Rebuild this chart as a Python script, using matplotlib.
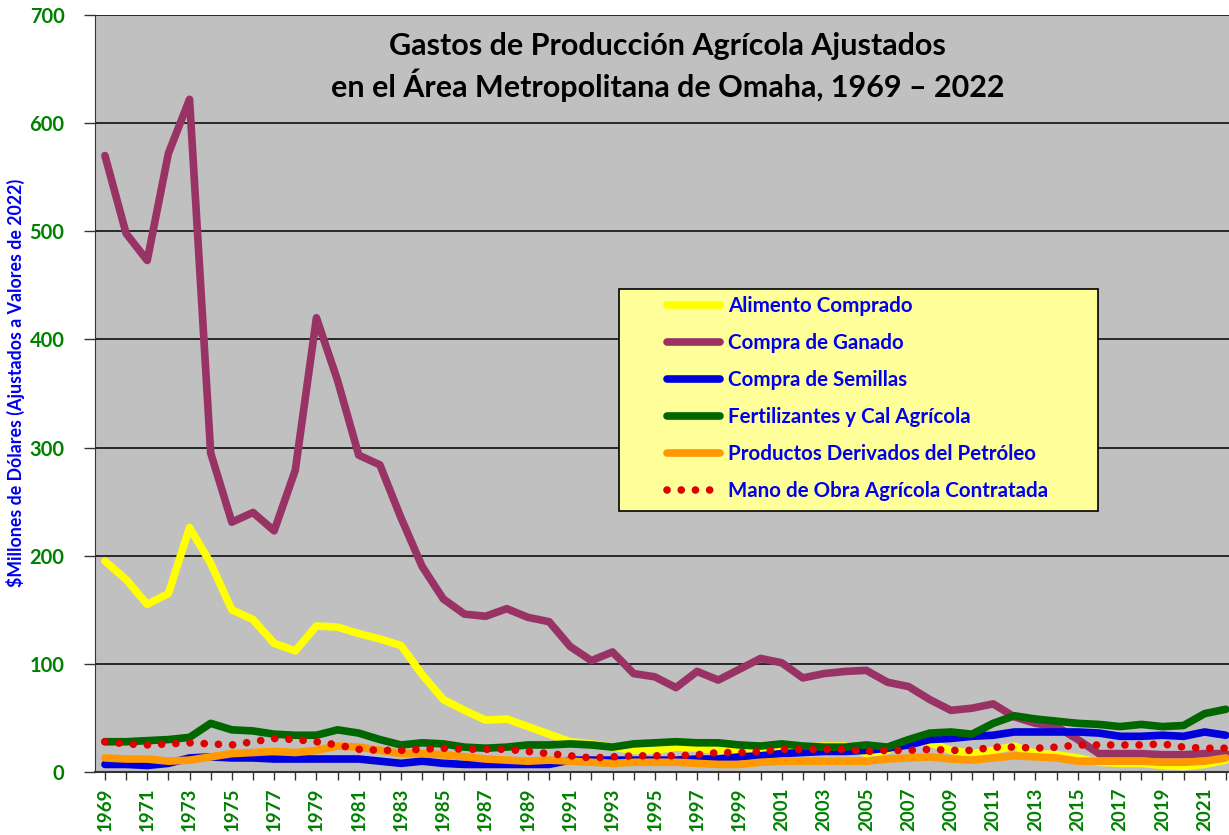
import numpy as np
import matplotlib
matplotlib.use("Agg")
import matplotlib.pyplot as plt
from matplotlib.lines import Line2D
from matplotlib.patches import Rectangle

plt.rcParams["font.family"] = ["Lato", "DejaVu Sans"]
plt.rcParams["font.weight"] = "bold"

# datos (millones de dólares, valores de 2022)
years = np.arange(1969, 2023)

alimento = [195, 178, 155, 165, 226, 193, 150, 141, 119, 112,
            135, 134, 128, 123, 117, 90, 67, 57, 48, 49,
            42, 35, 28, 26, 23, 20, 20, 23, 22, 20,
            20, 20, 22, 23, 24, 24, 17, 20, 30, 27,
            20, 17, 20, 24, 17, 16, 13, 9, 8, 8,
            6, 5, 7, 11]

ganado = [570, 498, 473, 572, 622, 295, 231, 240, 223, 279,
          420, 362, 293, 284, 235, 190, 160, 146, 144, 151,
          143, 139, 116, 103, 111, 91, 88, 78, 93, 85,
          95, 105, 101, 87, 91, 93, 94, 83, 79, 67,
          57, 59, 63, 51, 45, 42, 30, 17, 17, 17,
          16, 16, 17, 17]

semillas = [7, 7, 6, 8, 13, 14, 13, 13, 12, 12,
            12, 12, 12, 10, 8, 10, 8, 7, 7, 7,
            7, 7, 11, 11, 11, 11, 11, 11, 12, 12,
            14, 15, 17, 18, 19, 19, 20, 22, 25, 30,
            31, 33, 34, 37, 37, 37, 37, 36, 33, 33,
            34, 33, 37, 34]

fertilizantes = [28, 28, 29, 30, 32, 45, 39, 38, 35, 34,
                 34, 39, 36, 30, 25, 27, 26, 23, 22, 23,
                 25, 25, 26, 25, 23, 26, 27, 28, 27, 27,
                 25, 24, 26, 24, 23, 23, 25, 23, 30, 36,
                 37, 35, 45, 52, 49, 47, 45, 44, 42, 44,
                 42, 43, 54, 58]

petroleo = [13, 12, 12, 10, 11, 14, 17, 18, 19, 18,
            20, 24, 23, 20, 17, 17, 16, 14, 12, 11,
            10, 11, 10, 9, 8, 9, 9, 9, 8, 7,
            7, 9, 10, 10, 10, 10, 10, 12, 13, 14,
            12, 11, 13, 15, 14, 13, 10, 10, 10, 10,
            9, 9, 10, 13]

mano_obra = [28, 26, 25, 26, 27, 26, 25, 28, 31, 30,
             28, 25, 21, 20, 20, 21, 22, 21, 21, 21,
             19, 17, 15, 13, 14, 15, 15, 15, 16, 18,
             18, 19, 21, 21, 21, 21, 19, 20, 20, 21,
             20, 20, 23, 23, 22, 23, 25, 25, 25, 25,
             26, 23, 22, 22]

labels = ["Alimento Comprado", "Compra de Ganado", "Compra de Semillas",
          "Fertilizantes y Cal Agrícola", "Productos Derivados del Petróleo",
          "Mano de Obra Agrícola Contratada"]
colors = ["#FFFF00", "#993366", "#0000DD", "#006600", "#FF9900", "#E00000"]
series = [alimento, ganado, semillas, fertilizantes, petroleo, mano_obra]

GREEN_TXT = "#008000"
BLUE_TXT = "#0000EE"
LW = 5.5
DOTS = (0, (0.01, 1.85))

W, H = 1229, 835
fig = plt.figure(figsize=(W / 100, H / 100), dpi=100)
ax = fig.add_axes([95 / W, 63 / H, 1134 / W, 757 / H])
ax.set_facecolor("#C0C0C0")

for vals, col, lab in zip(series[:-1], colors[:-1], labels[:-1]):
    ax.plot(years, vals, color=col, lw=LW, solid_joinstyle="round",
            solid_capstyle="round", label=lab)
ax.plot(years, mano_obra, color=colors[-1], lw=LW, ls=DOTS,
        dash_capstyle="round", label=labels[-1])

ax.set_xlim(1968.53, 2022.15)
ax.set_ylim(0, 700)
ax.set_yticks(np.arange(0, 701, 100))
ax.set_xticks(years)
ax.set_xticklabels([str(y) if (y - 1969) % 2 == 0 else "" for y in years],
                   rotation=90)
ax.yaxis.grid(True, color="#000000", lw=1.1)
ax.set_axisbelow(True)

for s in ["top", "right"]:
    ax.spines[s].set_visible(False)
ax.spines["left"].set_color("#333333")
ax.spines["bottom"].set_color("#333333")
ax.spines["bottom"].set_linewidth(1.5)

ax.tick_params(axis="x", direction="out", length=6, width=1, colors="#333333",
               labelcolor=GREEN_TXT, labelsize=13.5, pad=5)
ax.tick_params(axis="y", direction="out", length=8, width=1, colors="#333333",
               labelcolor=GREEN_TXT, labelsize=14.5, pad=14)
for t in ax.get_xticklabels() + ax.get_yticklabels():
    t.set_fontweight("bold")

ax.set_ylabel("$Millones de Dólares (Ajustados a Valores de 2022)",
              color=BLUE_TXT, fontsize=12.8, fontweight="bold")
ax.yaxis.set_label_coords(-70 / 1134, (772 - 383) / 757)

ax.text(0.505, (772 - 67) / 757, "Gastos de Producción Agrícola Ajustados\n"
        "en el Área Metropolitana de Omaha, 1969 – 2022",
        transform=ax.transAxes, ha="center", va="center", fontsize=22,
        fontweight="bold", color="black", linespacing=1.3)

# caja de la leyenda
box = Rectangle(((619 - 95) / 1134, (772 - 511) / 757), (1098 - 619) / 1134,
                (511 - 289) / 757, transform=ax.transAxes, facecolor="#FFFF99",
                edgecolor="black", lw=1.2, zorder=5)
ax.add_patch(box)

handles = [Line2D([0], [0], color=c, lw=LW, solid_capstyle="round")
           for c in colors[:-1]]
handles.append(Line2D([0], [0], color=colors[-1], lw=LW, ls=DOTS,
                      dash_capstyle="round"))
leg = ax.legend(handles, labels, loc="upper left",
                bbox_to_anchor=((667 - 95) / 1134, (772 - 296) / 757),
                frameon=False, fontsize=14.8,
                handlelength=2.57, handletextpad=0.4, labelspacing=0.83,
                borderpad=0, borderaxespad=0)
leg.set_zorder(6)
for t in leg.get_texts():
    t.set_color(BLUE_TXT)
    t.set_fontweight("bold")

fig.savefig("out.png", dpi=100)
